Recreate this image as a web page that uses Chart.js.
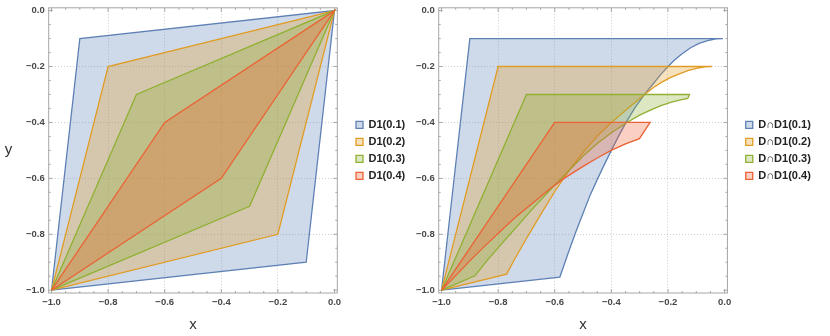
<!DOCTYPE html>
<html>
<head>
<meta charset="utf-8">
<script src="https://cdn.jsdelivr.net/npm/chart.js@4.4.0/dist/chart.umd.min.js"></script>
<style>
  html, body { margin: 0; padding: 0; background: #fff; }
  #wrap { position: relative; width: 830px; height: 336px; }
  .panel { position: absolute; top: 0; }
  #leftPanel { left: 0; }
  #rightPanel { left: 412px; }
</style>
</head>
<body>
<div id="wrap">
  <div class="panel" id="leftPanel"><canvas id="leftChart" width="420" height="336"></canvas></div>
  <div class="panel" id="rightPanel"><canvas id="rightChart" width="418" height="336"></canvas></div>
</div>
<script>
// ticks on both axes
const majorTicks = [-1.0, -0.8, -0.6, -0.4, -0.2, 0.0];
const minorTicks = [-0.95, -0.9, -0.85, -0.75, -0.7, -0.65, -0.55, -0.5, -0.45, -0.35, -0.3, -0.25, -0.15, -0.1, -0.05];

const lineColors = ['#5E81B5', '#E19C24', '#8FB032', '#EB6235'];
const fillColors = ['rgba(94,129,181,0.3)', 'rgba(225,156,36,0.3)', 'rgba(143,176,50,0.3)', 'rgba(235,98,53,0.3)'];

// left panel: D1(t)
const leftLabels = ['D1(0.1)', 'D1(0.2)', 'D1(0.3)', 'D1(0.4)'];
const d1X01 = [-1, -0.9, 0, -0.1, -1];
const d1Y01 = [-1, -0.1, 0, -0.9, -1];
const d1X02 = [-1, -0.8, 0, -0.2, -1];
const d1Y02 = [-1, -0.2, 0, -0.8, -1];
const d1X03 = [-1, -0.7, 0, -0.3, -1];
const d1Y03 = [-1, -0.3, 0, -0.7, -1];
const d1X04 = [-1, -0.6, 0, -0.4, -1];
const d1Y04 = [-1, -0.4, 0, -0.6, -1];

// right panel: D ∩ D1(t)
const rightLabels = ['D\u2229D1(0.1)', 'D\u2229D1(0.2)', 'D\u2229D1(0.3)', 'D\u2229D1(0.4)'];
const capX01 = [-1, -0.9, -0.006, -0.03, -0.06, -0.09, -0.12, -0.15, -0.175, -0.20, -0.225, -0.25, -0.283, -0.317, -0.348, -0.375, -0.40, -0.425, -0.448, -0.475, -0.50, -0.525, -0.55, -0.582, -1];
const capY01 = [-1, -0.1, -0.100, -0.101, -0.107, -0.117, -0.133, -0.154, -0.175, -0.200, -0.228, -0.259, -0.300, -0.348, -0.400, -0.450, -0.500, -0.551, -0.600, -0.660, -0.725, -0.79, -0.86, -0.953, -1];
const capX02 = [-1, -0.8, -0.045, -0.07, -0.10, -0.13, -0.16, -0.19, -0.22, -0.25, -0.283, -0.34, -0.40, -0.45, -0.50, -0.55, -0.60, -0.65, -0.70, -0.744, -0.77, -1];
const capY02 = [-1, -0.2, -0.200, -0.201, -0.207, -0.215, -0.226, -0.239, -0.255, -0.274, -0.300, -0.348, -0.400, -0.449, -0.507, -0.572, -0.647, -0.730, -0.815, -0.893, -0.9425, -1];
const capX03 = [-1, -0.7, -0.124, -0.13, -0.16, -0.19, -0.225, -0.26, -0.30, -0.345, -0.40, -0.45, -0.50, -0.567, -0.62, -0.673, -0.73, -0.791, -0.84, -0.882, -1];
const capY03 = [-1, -0.3, -0.300, -0.314, -0.320, -0.328, -0.340, -0.355, -0.374, -0.400, -0.437, -0.475, -0.520, -0.590, -0.645, -0.703, -0.768, -0.838, -0.895, -0.9486, -1];
const capX04 = [-1, -0.6, -0.263, -0.301, -0.35, -0.401, -0.45, -0.50, -0.567, -0.62, -0.685, -0.74, -0.791, -0.85, -0.90, -0.95, -1];
const capY04 = [-1, -0.4, -0.400, -0.458, -0.477, -0.500, -0.527, -0.557, -0.600, -0.640, -0.694, -0.740, -0.788, -0.845, -0.895, -0.948, -1];

function pts(xs, ys) {
    return xs.map((x, i) => ({x: x, y: ys[i]}));
}

function makeDatasets(labels, polys) {
    return polys.map((p, i) => ({
        label: labels[i],
        data: pts(p[0], p[1]),
        showLine: true,
        fill: 'shape',
        borderColor: lineColors[i],
        backgroundColor: fillColors[i],
        borderWidth: 1.3,
        pointRadius: 0,
        tension: 0,
        order: 4 - i
    }));
}

const fontFamily = '"Liberation Sans", Arial, sans-serif';
const tickFont = {family: fontFamily, size: 9.5, weight: 'bold', lineHeight: 0.8};

// frame with inward ticks on all four sides, like the original
const framePlugin = {
    id: 'frame',
    beforeDatasetsDraw(chart) {
        const {ctx, chartArea: a, scales} = chart;
        const x = scales.x, y = scales.y;
        ctx.save();
        ctx.strokeStyle = '#a6a6a6';
        ctx.lineWidth = 1;
        ctx.strokeRect(a.left, a.top, a.right - a.left, a.bottom - a.top);
        ctx.beginPath();
        const marks = (vals, len) => {
            vals.forEach(v => {
                const px = x.getPixelForValue(v);
                ctx.moveTo(px, a.bottom); ctx.lineTo(px, a.bottom - len);
                ctx.moveTo(px, a.top); ctx.lineTo(px, a.top + len);
                const py = y.getPixelForValue(v);
                ctx.moveTo(a.left, py); ctx.lineTo(a.left + len, py);
                ctx.moveTo(a.right, py); ctx.lineTo(a.right - len, py);
            });
        };
        marks(majorTicks, 4);
        marks(minorTicks, 2);
        ctx.stroke();
        ctx.restore();
    },
    afterDraw(chart, args, opts) {
        if (!opts.yTitle) return;
        const {ctx, chartArea: a} = chart;
        ctx.save();
        ctx.fillStyle = '#333';
        ctx.font = '15px ' + fontFamily;
        ctx.textAlign = 'center';
        ctx.textBaseline = 'alphabetic';
        ctx.fillText(opts.yTitle, 8.5, (a.top + a.bottom) / 2 + 4);
        ctx.restore();
    }
};

const gridColor = c => (c.tick && (c.tick.value === -1 || c.tick.value === 0)) ? 'rgba(0,0,0,0)' : '#cfcfcf';
const tickText = v => v.toFixed(1).replace('-', '\u2212');

function makeOptions(yWidth, padRight, gapWidth, yTitle) {
    return {
        responsive: false,
        animation: false,
        layout: {padding: {left: 0, top: 4, right: padRight, bottom: 0}},
        scales: {
            x: {
                type: 'linear',
                min: -1.01,
                max: 0.01,
                afterBuildTicks: s => { s.ticks = majorTicks.map(v => ({value: v})); },
                afterFit: s => { s.height = 43; },
                grid: {drawTicks: false, color: gridColor},
                border: {display: false, dash: [1, 2]},
                ticks: {padding: 6, color: '#484848', font: tickFont, maxRotation: 0, callback: tickText},
                title: {
                    display: true,
                    text: 'x',
                    color: '#333',
                    font: {family: fontFamily, size: 15},
                    padding: {top: 0, bottom: 2}
                }
            },
            y: {
                type: 'linear',
                min: -1.01,
                max: 0.01,
                afterBuildTicks: s => { s.ticks = majorTicks.map(v => ({value: v})); },
                afterFit: s => { s.width = yWidth; },
                grid: {drawTicks: false, color: gridColor},
                border: {display: false, dash: [1, 2]},
                ticks: {padding: 4, color: '#484848', font: tickFont, callback: tickText}
            },
            // hidden spacer between the frame and the legend
            gap: {
                type: 'linear',
                axis: 'y',
                position: 'right',
                display: false,
                afterFit: s => { s.width = gapWidth; }
            }
        },
        plugins: {
            tooltip: {enabled: false},
            frame: {yTitle: yTitle},
            legend: {
                position: 'right',
                align: 'center',
                fullSize: false,
                labels: {
                    boxWidth: 7,
                    boxHeight: 7,
                    padding: 6,
                    color: '#222',
                    font: {family: fontFamily, size: 11, weight: 'bold'},
                    sort: (a, b) => a.datasetIndex - b.datasetIndex
                }
            }
        }
    };
}

new Chart(document.getElementById('leftChart'), {
    type: 'scatter',
    data: {
        datasets: makeDatasets(leftLabels, [[d1X01, d1Y01], [d1X02, d1Y02], [d1X03, d1Y03], [d1X04, d1Y04]])
    },
    options: makeOptions(48.7, 4.8, 12.7, 'y'),
    plugins: [framePlugin]
});

new Chart(document.getElementById('rightChart'), {
    type: 'scatter',
    data: {
        datasets: makeDatasets(rightLabels, [[capX01, capY01], [capX02, capY02], [capX03, capY03], [capX04, capY04]])
    },
    options: makeOptions(26.7, 9.2, 12.3, null),
    plugins: [framePlugin]
});
</script>
</body>
</html>
